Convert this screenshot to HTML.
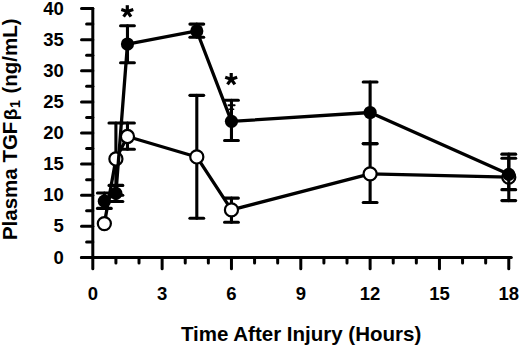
<!DOCTYPE html>
<html><head><meta charset="utf-8"><style>
html,body{margin:0;padding:0;background:#fff;}
body{width:520px;height:347px;overflow:hidden;}
svg{display:block;}
text{font-family:"Liberation Sans",sans-serif;font-weight:bold;fill:#000;}
</style></head><body>
<svg width="520" height="347" viewBox="0 0 520 347">
<g stroke="#000" stroke-width="3.0" stroke-linecap="round" fill="none">
<line x1="92.8" y1="8.57" x2="92.8" y2="268.7" />
<line x1="81.5" y1="257.45" x2="511.3" y2="257.45" />
<line x1="81.5" y1="257.45" x2="92.8" y2="257.45" />
<line x1="86.6" y1="241.89" x2="92.8" y2="241.89" />
<line x1="81.5" y1="226.34" x2="92.8" y2="226.34" />
<line x1="86.6" y1="210.78" x2="92.8" y2="210.78" />
<line x1="81.5" y1="195.23" x2="92.8" y2="195.23" />
<line x1="86.6" y1="179.67" x2="92.8" y2="179.67" />
<line x1="81.5" y1="164.12" x2="92.8" y2="164.12" />
<line x1="86.6" y1="148.56" x2="92.8" y2="148.56" />
<line x1="81.5" y1="133.01" x2="92.8" y2="133.01" />
<line x1="86.6" y1="117.45" x2="92.8" y2="117.45" />
<line x1="81.5" y1="101.90" x2="92.8" y2="101.90" />
<line x1="86.6" y1="86.34" x2="92.8" y2="86.34" />
<line x1="81.5" y1="70.79" x2="92.8" y2="70.79" />
<line x1="86.6" y1="55.23" x2="92.8" y2="55.23" />
<line x1="81.5" y1="39.68" x2="92.8" y2="39.68" />
<line x1="86.6" y1="24.12" x2="92.8" y2="24.12" />
<line x1="81.5" y1="8.57" x2="92.8" y2="8.57" />
<line x1="115.91" y1="257.45" x2="115.91" y2="262.9" />
<line x1="139.02" y1="257.45" x2="139.02" y2="262.9" />
<line x1="162.13" y1="257.45" x2="162.13" y2="268.7" />
<line x1="185.24" y1="257.45" x2="185.24" y2="262.9" />
<line x1="208.35" y1="257.45" x2="208.35" y2="262.9" />
<line x1="231.46" y1="257.45" x2="231.46" y2="268.7" />
<line x1="254.57" y1="257.45" x2="254.57" y2="262.9" />
<line x1="277.68" y1="257.45" x2="277.68" y2="262.9" />
<line x1="300.79" y1="257.45" x2="300.79" y2="268.7" />
<line x1="323.90" y1="257.45" x2="323.90" y2="262.9" />
<line x1="347.01" y1="257.45" x2="347.01" y2="262.9" />
<line x1="370.12" y1="257.45" x2="370.12" y2="268.7" />
<line x1="393.23" y1="257.45" x2="393.23" y2="262.9" />
<line x1="416.34" y1="257.45" x2="416.34" y2="262.9" />
<line x1="439.45" y1="257.45" x2="439.45" y2="268.7" />
<line x1="462.56" y1="257.45" x2="462.56" y2="262.9" />
<line x1="485.67" y1="257.45" x2="485.67" y2="262.9" />
<line x1="508.78" y1="257.45" x2="508.78" y2="268.7" />
</g>
<g font-size="18.5">
<text x="63.9" y="263.55" text-anchor="end">0</text>
<text x="63.9" y="232.44" text-anchor="end">5</text>
<text x="63.9" y="201.33" text-anchor="end">10</text>
<text x="63.9" y="170.22" text-anchor="end">15</text>
<text x="63.9" y="139.11" text-anchor="end">20</text>
<text x="63.9" y="108.00" text-anchor="end">25</text>
<text x="63.9" y="76.89" text-anchor="end">30</text>
<text x="63.9" y="45.78" text-anchor="end">35</text>
<text x="63.9" y="14.67" text-anchor="end">40</text>
<text x="92.80" y="300" text-anchor="middle">0</text>
<text x="162.13" y="300" text-anchor="middle">3</text>
<text x="231.46" y="300" text-anchor="middle">6</text>
<text x="300.79" y="300" text-anchor="middle">9</text>
<text x="370.12" y="300" text-anchor="middle">12</text>
<text x="439.45" y="300" text-anchor="middle">15</text>
<text x="508.78" y="300" text-anchor="middle">18</text>
</g>
<text x="180.9" y="341" font-size="20.5">Time After Injury (Hours)</text>
<g transform="translate(16.8,0) rotate(-90)">
<text x="-240.1" y="0" font-size="20.5">Plasma TGF</text>
<text x="-120.2" y="0" font-size="19" font-weight="normal">β</text>
<text x="-107.95" y="3.5" font-size="14" font-weight="normal">1</text>
<text x="-93.6" y="0" font-size="20.5">(ng/mL)</text>
</g>
<g stroke="#000" stroke-width="3.1" stroke-linecap="round" fill="none">
<line x1="115.91" y1="158.96" x2="115.91" y2="123.05"/>
<line x1="109.01" y1="123.05" x2="122.81" y2="123.05"/>
<line x1="115.91" y1="158.96" x2="115.91" y2="195.23"/>
<line x1="109.01" y1="195.23" x2="122.81" y2="195.23"/>
<line x1="127.47" y1="136.49" x2="127.47" y2="123.05"/>
<line x1="120.56" y1="123.05" x2="134.37" y2="123.05"/>
<line x1="127.47" y1="136.49" x2="127.47" y2="149.19"/>
<line x1="120.56" y1="149.19" x2="134.37" y2="149.19"/>
<line x1="196.80" y1="156.96" x2="196.80" y2="95.37"/>
<line x1="189.90" y1="95.37" x2="203.70" y2="95.37"/>
<line x1="196.80" y1="156.96" x2="196.80" y2="218.25"/>
<line x1="189.90" y1="218.25" x2="203.70" y2="218.25"/>
<line x1="231.46" y1="209.91" x2="231.46" y2="198.09"/>
<line x1="224.56" y1="198.09" x2="238.36" y2="198.09"/>
<line x1="231.46" y1="209.91" x2="231.46" y2="222.30"/>
<line x1="224.56" y1="222.30" x2="238.36" y2="222.30"/>
<line x1="370.12" y1="173.83" x2="370.12" y2="143.77"/>
<line x1="363.22" y1="143.77" x2="377.02" y2="143.77"/>
<line x1="370.12" y1="173.83" x2="370.12" y2="202.51"/>
<line x1="363.22" y1="202.51" x2="377.02" y2="202.51"/>
<line x1="508.78" y1="177.19" x2="508.78" y2="154.16"/>
<line x1="501.88" y1="154.16" x2="515.68" y2="154.16"/>
<line x1="508.78" y1="177.19" x2="508.78" y2="200.58"/>
<line x1="501.88" y1="200.58" x2="515.68" y2="200.58"/>
<polyline points="104.35,223.60 115.91,158.96 127.47,136.49 196.80,156.96 231.46,209.91 370.12,173.83 508.78,177.19" fill="none" stroke-width="3.3" stroke-linejoin="round"/>
</g>
<circle cx="104.35" cy="223.60" r="6.55" fill="#fff" stroke="#000" stroke-width="2.2"/>
<circle cx="115.91" cy="158.96" r="6.55" fill="#fff" stroke="#000" stroke-width="2.2"/>
<circle cx="127.47" cy="136.49" r="6.55" fill="#fff" stroke="#000" stroke-width="2.2"/>
<circle cx="196.80" cy="156.96" r="6.55" fill="#fff" stroke="#000" stroke-width="2.2"/>
<circle cx="231.46" cy="209.91" r="6.55" fill="#fff" stroke="#000" stroke-width="2.2"/>
<circle cx="370.12" cy="173.83" r="6.55" fill="#fff" stroke="#000" stroke-width="2.2"/>
<circle cx="508.78" cy="177.19" r="6.55" fill="#fff" stroke="#000" stroke-width="2.2"/>
<g stroke="#000" stroke-width="3.1" stroke-linecap="round" fill="none">
<line x1="104.35" y1="201.14" x2="104.35" y2="192.99"/>
<line x1="97.45" y1="192.99" x2="111.25" y2="192.99"/>
<line x1="104.35" y1="201.14" x2="104.35" y2="208.42"/>
<line x1="97.45" y1="208.42" x2="111.25" y2="208.42"/>
<line x1="115.91" y1="193.36" x2="115.91" y2="185.40"/>
<line x1="109.01" y1="185.40" x2="122.81" y2="185.40"/>
<line x1="115.91" y1="193.36" x2="115.91" y2="201.45"/>
<line x1="109.01" y1="201.45" x2="122.81" y2="201.45"/>
<line x1="127.47" y1="44.04" x2="127.47" y2="25.68"/>
<line x1="120.56" y1="25.68" x2="134.37" y2="25.68"/>
<line x1="127.47" y1="44.04" x2="127.47" y2="62.70"/>
<line x1="120.56" y1="62.70" x2="134.37" y2="62.70"/>
<line x1="196.80" y1="30.97" x2="196.80" y2="24.12"/>
<line x1="189.90" y1="24.12" x2="203.70" y2="24.12"/>
<line x1="196.80" y1="30.97" x2="196.80" y2="37.19"/>
<line x1="189.90" y1="37.19" x2="203.70" y2="37.19"/>
<line x1="231.46" y1="121.37" x2="231.46" y2="100.22"/>
<line x1="224.56" y1="100.22" x2="238.36" y2="100.22"/>
<line x1="231.46" y1="121.37" x2="231.46" y2="140.48"/>
<line x1="224.56" y1="140.48" x2="238.36" y2="140.48"/>
<line x1="370.12" y1="112.48" x2="370.12" y2="81.99"/>
<line x1="363.22" y1="81.99" x2="377.02" y2="81.99"/>
<line x1="370.12" y1="112.48" x2="370.12" y2="143.59"/>
<line x1="363.22" y1="143.59" x2="377.02" y2="143.59"/>
<line x1="508.78" y1="174.32" x2="508.78" y2="158.27"/>
<line x1="501.88" y1="158.27" x2="515.68" y2="158.27"/>
<line x1="508.78" y1="174.32" x2="508.78" y2="189.63"/>
<line x1="501.88" y1="189.63" x2="515.68" y2="189.63"/>
<polyline points="104.35,201.14 115.91,193.36 127.47,44.04 196.80,30.97 231.46,121.37 370.12,112.48 508.78,174.32" fill="none" stroke-width="3.3" stroke-linejoin="round"/>
</g>
<circle cx="104.35" cy="201.14" r="6.6" fill="#000"/>
<circle cx="115.91" cy="193.36" r="6.6" fill="#000"/>
<circle cx="127.47" cy="44.04" r="6.6" fill="#000"/>
<circle cx="196.80" cy="30.97" r="6.6" fill="#000"/>
<circle cx="231.46" cy="121.37" r="6.6" fill="#000"/>
<circle cx="370.12" cy="112.48" r="6.6" fill="#000"/>
<circle cx="508.78" cy="174.32" r="6.6" fill="#000"/>
<line x1="228.5" y1="105.2" x2="234.6" y2="105.2" stroke="#000" stroke-width="2" stroke-linecap="round"/><line x1="229" y1="109.3" x2="233.6" y2="109.3" stroke="#000" stroke-width="1.6" stroke-linecap="round"/>
<g stroke="#000" stroke-width="3.2" stroke-linecap="butt"><line x1="127.30" y1="11.50" x2="127.30" y2="5.20"/><line x1="127.30" y1="11.50" x2="133.29" y2="9.55"/><line x1="127.30" y1="11.50" x2="131.00" y2="16.60"/><line x1="127.30" y1="11.50" x2="123.60" y2="16.60"/><line x1="127.30" y1="11.50" x2="121.31" y2="9.55"/></g>
<g stroke="#000" stroke-width="3.2" stroke-linecap="butt"><line x1="231.20" y1="79.30" x2="231.20" y2="73.00"/><line x1="231.20" y1="79.30" x2="237.19" y2="77.35"/><line x1="231.20" y1="79.30" x2="234.90" y2="84.40"/><line x1="231.20" y1="79.30" x2="227.50" y2="84.40"/><line x1="231.20" y1="79.30" x2="225.21" y2="77.35"/></g>
</svg>
</body></html>
